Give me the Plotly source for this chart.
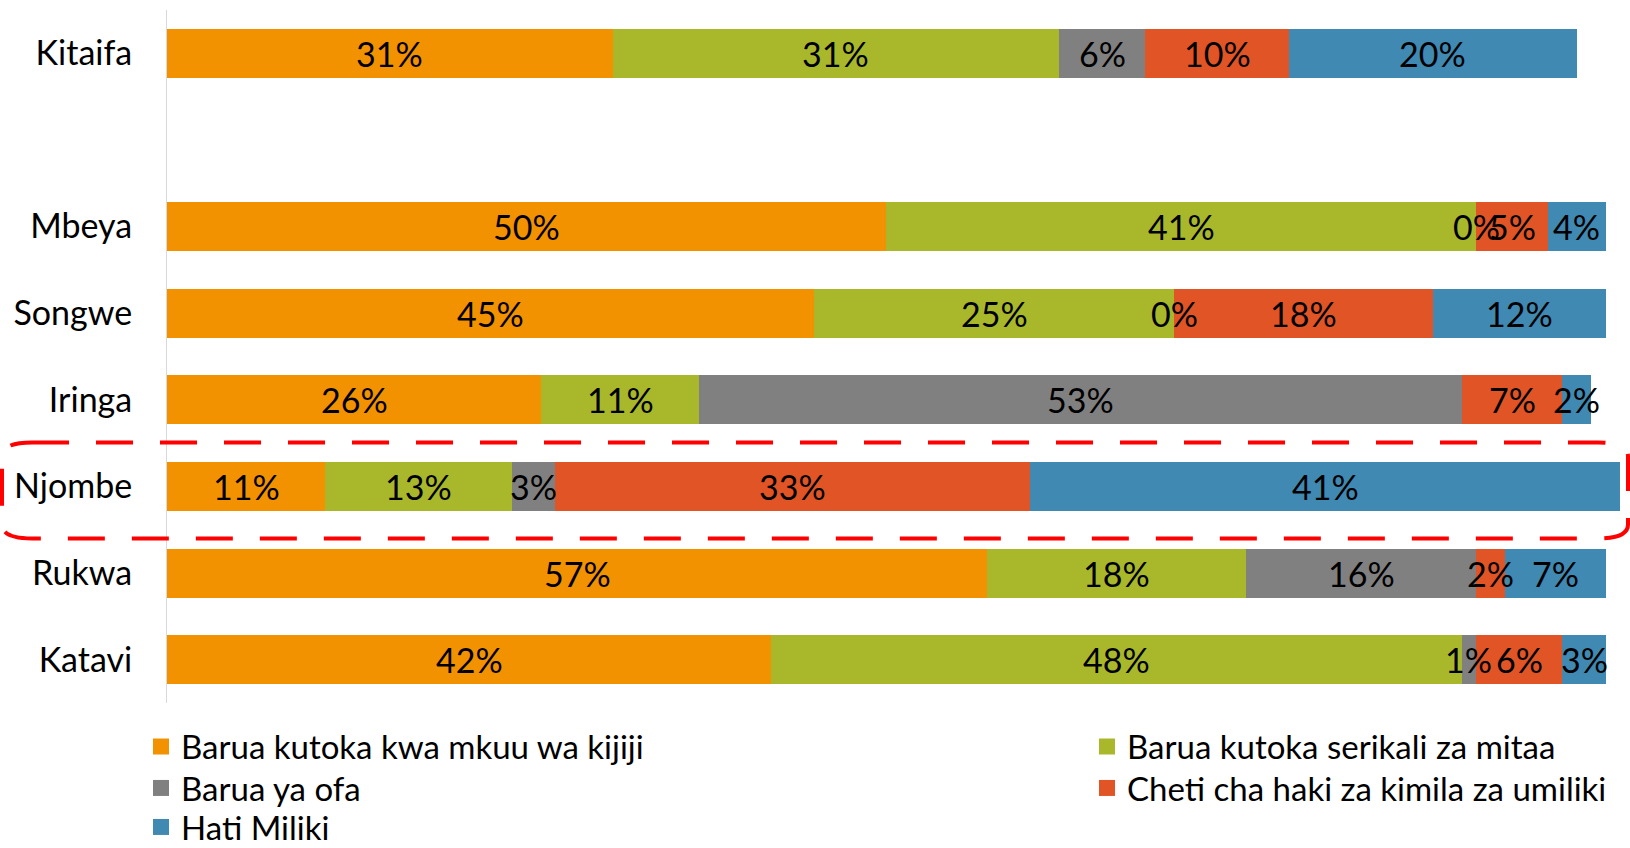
import plotly.graph_objects as go

regions = ["Kitaifa", "", "Mbeya", "Songwe", "Iringa", "Njombe", "Rukwa", "Katavi"]
series_names = [
    "Barua kutoka kwa mkuu wa kijiji",
    "Barua kutoka serikali za mitaa",
    "Barua ya ofa",
    "Cheti cha haki za kimila za umiliki",
    "Hati Miliki",
]
mkuu_wa_kijiji = [31, None, 50, 45, 26, 11, 57, 42]
serikali_za_mitaa = [31, None, 41, 25, 11, 13, 18, 48]
barua_ya_ofa = [6, None, 0, 0, 53, 3, 16, 1]
cheti_cha_kimila = [10, None, 5, 18, 7, 33, 2, 6]
hati_miliki = [20, None, 4, 12, 2, 41, 7, 3]
series_values = [mkuu_wa_kijiji, serikali_za_mitaa, barua_ya_ofa, cheti_cha_kimila, hati_miliki]
colors = ["#F39200", "#A8B82A", "#808080", "#E05426", "#3F89B3"]
highlight_region = "Njombe"

FONT = "Lato"
W, H = 1630, 848
ML, MR, MT, MB = 167, 5, 10, 145
PW, PH = W - ML - MR, H - MT - MB
PX_PER_PCT = 14.386


def px(xp):
    return (xp - ML) / PW


def py(yp):
    return 1 - (yp - MT) / PH


rows = list(range(len(regions)))
fig = go.Figure()
annotations = []
cum = [0.0] * len(regions)
for name, vals, col in zip(series_names, series_values, colors):
    fig.add_trace(go.Bar(
        x=vals, y=rows, orientation="h", name=name, width=0.565,
        marker=dict(color=col, line=dict(width=0)), showlegend=False,
        hoverinfo="x+name",
    ))
    for i, v in enumerate(vals):
        if v is None:
            continue
        annotations.append(dict(
            x=cum[i] + v / 2, y=i, xref="x", yref="y", text=f"{v}%",
            showarrow=False, font=dict(family=FONT, size=34, color="#000000"),
            xanchor="center", yanchor="middle",
        ))
        cum[i] += v

# legend: one legend box per entry, arranged in two columns (row-major order)
legend_cols_x = [141, 1087]
legend_rows_y = [746.5, 788, 827]
legend_layouts = {}
for k, (name, col) in enumerate(zip(series_names, colors)):
    key = "legend" if k == 0 else f"legend{k + 1}"
    fig.add_trace(go.Scatter(
        x=[None], y=[None], mode="markers", name=name,
        marker=dict(symbol="square", size=20, color=col),
        legend=key,
    ))
    legend_layouts[key] = dict(
        orientation="v", x=px(legend_cols_x[k % 2]), xanchor="left",
        y=py(legend_rows_y[k // 2]), yanchor="middle",
        font=dict(family=FONT, size=33, color="#000000"),
        bgcolor="rgba(0,0,0,0)", borderwidth=0,
    )

# rounded dashed rectangle around the highlighted row
hi = regions.index(highlight_region)
yc = MT + (hi + 0.5) * PH / len(regions)
x0, x1 = 2, 1628
y0, y1 = yc - 44, yc + 52
rx, ry = 30, 14
path = (
    f"M{px(x0+rx)},{py(y0)} L{px(x1-rx)},{py(y0)} Q{px(x1)},{py(y0)} {px(x1)},{py(y0+ry)} "
    f"L{px(x1)},{py(y1-ry)} Q{px(x1)},{py(y1)} {px(x1-rx)},{py(y1)} "
    f"L{px(x0+rx)},{py(y1)} Q{px(x0)},{py(y1)} {px(x0)},{py(y1-ry)} "
    f"L{px(x0)},{py(y0+ry)} Q{px(x0)},{py(y0)} {px(x0+rx)},{py(y0)} Z"
)

fig.update_layout(
    width=W, height=H, autosize=False,
    margin=dict(l=ML, r=MR, t=MT, b=MB, autoexpand=False),
    barmode="stack", bargap=0,
    plot_bgcolor="white", paper_bgcolor="white",
    font=dict(family=FONT, size=34, color="#000000"),
    xaxis=dict(range=[0, PW / PX_PER_PCT], visible=False, fixedrange=True),
    yaxis=dict(
        range=[len(regions) - 0.5, -0.5], tickmode="array", tickvals=rows, ticktext=regions,
        showline=True, linecolor="#D9D9D9", linewidth=1, showgrid=False, zeroline=False,
        ticks="outside", ticklen=27, tickcolor="rgba(0,0,0,0)",
        tickfont=dict(family=FONT, size=34, color="#000000"),
    ),
    annotations=annotations,
    shapes=[dict(type="path", path=path, xref="paper", yref="paper",
                 line=dict(color="#FF0000", width=4, dash="37px,27px"))],
    **legend_layouts,
)

fig.write_html("out.html", config={"displayModeBar": False},
               post_script="document.body.style.margin='0';")
